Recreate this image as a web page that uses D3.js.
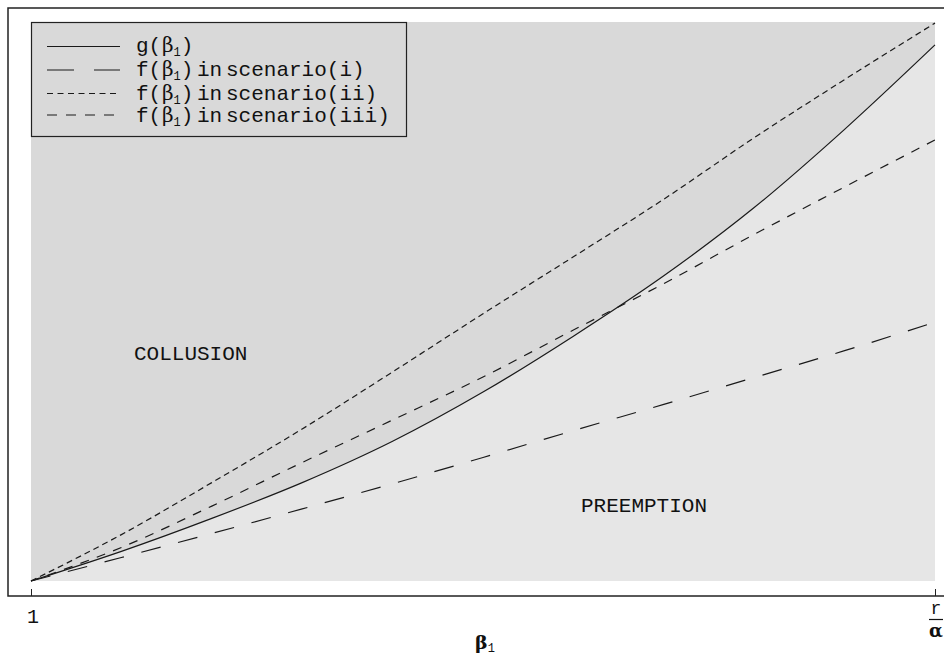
<!DOCTYPE html>
<html>
<head>
<meta charset="utf-8">
<script src="https://cdn.jsdelivr.net/npm/d3@7"></script>
<style>
  html, body { margin: 0; padding: 0; background: #fff; }
  svg { display: block; }
  .mono { font-family: "Liberation Mono", "DejaVu Sans Mono", monospace; fill: #111; }
  .greek { font-family: "DejaVu Serif", "Liberation Serif", serif; fill: #111; }
</style>
</head>
<body>
<svg id="chart" width="944" height="659"></svg>
<script>
// β1 runs from 1 to r/α; r/α is placed at 2 on the numeric axis.
const beta = [1.0, 1.1, 1.2, 1.3, 1.4, 1.5, 1.6, 1.7, 1.8, 1.9, 2.0];

// Threshold g(β1) separating collusion from preemption
const gValues = [0, 0.053, 0.112, 0.176, 0.250, 0.338, 0.438, 0.546, 0.668, 0.808, 0.959];
// f(β1) in the three scenarios
const fScenario1 = [0, 0.042, 0.085, 0.129, 0.174, 0.221, 0.269, 0.316, 0.364, 0.412, 0.463];
const fScenario2 = [0, 0.083, 0.176, 0.272, 0.374, 0.478, 0.580, 0.683, 0.793, 0.897, 0.998];
const fScenario3 = [0, 0.060, 0.134, 0.212, 0.288, 0.365, 0.449, 0.532, 0.620, 0.705, 0.789];

const tickValues = [1, 2];
const tickLabels = ["1", "r/α"];

const legendNames = ["g", "f", "f", "f"];
const legendSuffix = ["", "scenario(i)", "scenario(ii)", "scenario(iii)"];
const regionLabels = ["COLLUSION", "PREEMPTION"];

const svg = d3.select("#chart");

const x = d3.scaleLinear().domain([1, 2]).range([31, 935]);
const y = d3.scaleLinear().domain([0, 1]).range([581, 22]);

// Plot background: the whole area is the collusion region
svg.append("rect")
  .attr("x", x(1)).attr("y", y(1))
  .attr("width", x(2) - x(1)).attr("height", y(0) - y(1))
  .attr("fill", "#d9d9d9");

// Preemption region: below the g curve
const gPts = beta.map((b, i) => [b, gValues[i]]);
svg.append("path")
  .datum(gPts)
  .attr("fill", "#e6e6e6")
  .attr("d", d3.area()
    .x(d => x(d[0])).y0(y(0)).y1(d => y(d[1]))
    .curve(d3.curveMonotoneX));

// Curves
const line = d3.line().x(d => x(d[0])).y(d => y(d[1])).curve(d3.curveMonotoneX);
const series = [
  { vals: gValues,    dash: null,    key: null },
  { vals: fScenario1, dash: "20,18", key: "27,20" },
  { vals: fScenario2, dash: "6,4",   key: "6,4.5" },
  { vals: fScenario3, dash: "9,8.5", key: "10,9" }
];
series.forEach(s => {
  svg.append("path")
    .datum(beta.map((b, i) => [b, s.vals[i]]))
    .attr("fill", "none")
    .attr("stroke", "#1a1a1a")
    .attr("stroke-width", 1.2)
    .attr("stroke-dasharray", s.dash)
    .attr("d", line);
});

// Region labels
svg.append("text").attr("class", "mono").attr("font-size", 21)
  .attr("x", 134).attr("y", 360).text(regionLabels[0]);
svg.append("text").attr("class", "mono").attr("font-size", 21)
  .attr("x", 581).attr("y", 512).text(regionLabels[1]);

// Frame
svg.append("rect")
  .attr("x", 8).attr("y", 8).attr("width", 980).attr("height", 588)
  .attr("fill", "none").attr("stroke", "#222").attr("stroke-width", 1.5);

// Bottom axis with inward ticks
const axis = d3.axisBottom(x).tickValues(tickValues).tickSizeInner(-7).tickSizeOuter(0).tickFormat(() => "");
const ax = svg.append("g").attr("transform", "translate(0,596)").call(axis);
ax.select(".domain").remove();
ax.selectAll(".tick line").attr("stroke", "#222").attr("stroke-width", 1);

svg.append("text").attr("class", "mono").attr("font-size", 20)
  .attr("x", x(tickValues[0]) + 2).attr("y", 623).attr("text-anchor", "middle")
  .text(tickLabels[0]);

// r/α as a stacked fraction
const fracX = x(tickValues[1]) + 1;
const [num, den] = tickLabels[1].split("/");
svg.append("text").attr("class", "mono").attr("font-size", 18)
  .attr("x", fracX).attr("y", 614).attr("text-anchor", "middle").text(num);
svg.append("line")
  .attr("x1", fracX - 7).attr("x2", fracX + 7)
  .attr("y1", 619.5).attr("y2", 619.5)
  .attr("stroke", "#111").attr("stroke-width", 1.2);
svg.append("text").attr("class", "greek").attr("font-size", 18).attr("font-weight", "bold")
  .attr("x", fracX).attr("y", 637).attr("text-anchor", "middle").text(den);

// Axis title β1
const title = svg.append("text").attr("x", 475).attr("y", 649);
title.append("tspan").attr("class", "greek").attr("font-size", 19).attr("font-weight", "bold").text("β");
title.append("tspan").attr("class", "mono").attr("font-size", 12).attr("dy", 3).text("1");

// Legend
const lg = svg.append("g");
lg.append("rect")
  .attr("x", 31.5).attr("y", 22.5).attr("width", 375).attr("height", 114)
  .attr("fill", "#d9d9d9").attr("stroke", "#222").attr("stroke-width", 1.2);

const rowY = [46.5, 70, 93.5, 115];
const baseY = [52, 76, 99.5, 122];
series.forEach((s, i) => {
  lg.append("line")
    .attr("x1", 47).attr("x2", 120)
    .attr("y1", rowY[i]).attr("y2", rowY[i])
    .attr("stroke", "#1a1a1a").attr("stroke-width", 1.2)
    .attr("stroke-dasharray", s.key);

  const t = lg.append("text").attr("y", baseY[i]);
  t.append("tspan").attr("class", "mono").attr("font-size", 21).attr("x", 136).text(legendNames[i] + "(");
  t.append("tspan").attr("class", "greek").attr("font-size", 20).attr("x", 162).text("β");
  t.append("tspan").attr("class", "mono").attr("font-size", 12).attr("dy", 4).text("1");
  t.append("tspan").attr("class", "mono").attr("font-size", 21).attr("dy", -4).text(")");
  if (legendSuffix[i]) {
    t.append("tspan").attr("class", "mono").attr("font-size", 21).attr("x", 197).text("in");
    t.append("tspan").attr("class", "mono").attr("font-size", 21).attr("x", 226).text(legendSuffix[i]);
  }
});
</script>
</body>
</html>
